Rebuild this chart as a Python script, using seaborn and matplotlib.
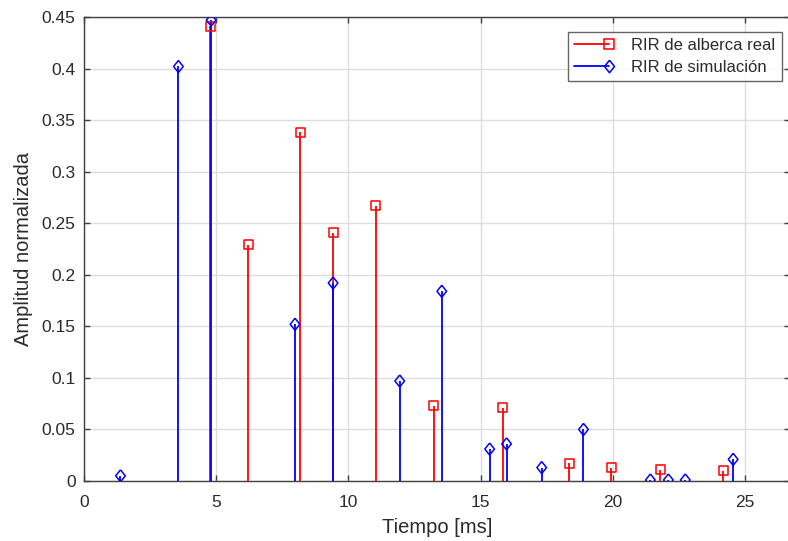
import numpy as np
import pandas as pd
import matplotlib
matplotlib.use("Agg")
import matplotlib.pyplot as plt
from matplotlib.lines import Line2D
from matplotlib.legend_handler import HandlerBase
import seaborn as sns

# Measured pool impulse response (time in ms, normalized amplitude)
t_real = [4.77, 6.21, 8.17, 9.42, 11.04, 13.23, 15.83, 18.36, 19.94, 21.79, 24.17]
a_real = [0.441, 0.229, 0.338, 0.241, 0.267, 0.073, 0.071, 0.017, 0.013, 0.011, 0.010]

# Simulated impulse response
t_sim = [1.38, 3.57, 4.81, 7.98, 9.42, 11.94, 13.53, 15.34, 15.98, 17.31, 18.89,
         21.42, 22.10, 22.74, 24.55]
a_sim = [0.005, 0.402, 0.447, 0.152, 0.192, 0.097, 0.184, 0.031, 0.036, 0.013, 0.050,
         0.001, 0.001, 0.001, 0.021]

x_ticks = [0, 5, 10, 15, 20, 25]
y_ticks = [0, 0.05, 0.1, 0.15, 0.2, 0.25, 0.3, 0.35, 0.4, 0.45]
y_tick_labels = ["0", "0.05", "0.1", "0.15", "0.2", "0.25", "0.3", "0.35", "0.4", "0.45"]
series_labels = ["RIR de alberca real", "RIR de simulación"]

sns.set_theme(style="whitegrid")
plt.rcParams["font.family"] = ["Liberation Sans", "DejaVu Sans"]

real = pd.DataFrame({"t": t_real, "a": a_real})
sim = pd.DataFrame({"t": t_sim, "a": a_sim})

RED = "#ff0000"
BLUE = "#0000ff"
DARK = "#2b2b2b"
AXIS = "#404040"
diamond = [(0, 1.0), (0.8, 0), (0, -1.0), (-0.8, 0), (0, 1.0)]


class StemHandler(HandlerBase):
    """Legend entry drawn as a horizontal stem with its head at the right end."""

    def create_artists(self, legend, orig_handle, xdescent, ydescent, width,
                       height, fontsize, trans):
        y = height / 2 - ydescent
        x0, x1 = -xdescent, width - xdescent
        line = Line2D([x0, x1], [y, y], color=orig_handle.get_color(),
                      linewidth=orig_handle.get_linewidth())
        head = Line2D([x1], [y], linestyle="none",
                      marker=orig_handle.get_marker(),
                      markersize=orig_handle.get_markersize(),
                      markerfacecolor="none",
                      markeredgecolor=orig_handle.get_markeredgecolor(),
                      markeredgewidth=orig_handle.get_markeredgewidth())
        line.set_transform(trans)
        head.set_transform(trans)
        return [line, head]


fig = plt.figure(figsize=(7.88, 5.41), dpi=100)
ax = fig.add_axes([84 / 788, 1 - 481 / 541, (790 - 84) / 788, (481 - 17) / 541])

# stems
ax.vlines(real["t"], 0, real["a"], color=RED, linewidth=1.3, zorder=3)
ax.vlines(sim["t"], 0, sim["a"], color=BLUE, linewidth=1.3, zorder=3)

# stem heads
sns.scatterplot(data=real, x="t", y="a", marker="s", s=42, facecolor="none",
                edgecolor=RED, linewidth=1.1, ax=ax, zorder=4, legend=False)
sns.scatterplot(data=sim, x="t", y="a", marker=diamond, s=75, facecolor="none",
                edgecolor=BLUE, linewidth=1.1, ax=ax, zorder=4, legend=False)

ax.set_xlim(0, 26.7)
ax.set_ylim(0, 0.45)
ax.set_xticks(x_ticks)
ax.set_yticks(y_ticks)
ax.set_yticklabels(y_tick_labels)

ax.set_facecolor("white")
ax.grid(True, color="#dedede", linewidth=1.0)
for side in ["left", "bottom", "top", "right"]:
    ax.spines[side].set_visible(True)
    ax.spines[side].set_color(AXIS)
    ax.spines[side].set_linewidth(1.0)
ax.tick_params(axis="both", direction="in", length=4, width=1, colors=AXIS,
               labelcolor=DARK, labelsize=12.5, top=True, right=True,
               left=True, bottom=True)
ax.tick_params(axis="x", pad=10)
ax.tick_params(axis="y", pad=6)

ax.set_xlabel("Tiempo [ms]", fontsize=14.5, color=DARK, labelpad=6)
ax.set_ylabel("Amplitud normalizada", fontsize=14.5, color=DARK, labelpad=6)

handles = [
    Line2D([], [], color=RED, linewidth=1.3, marker="s", markersize=6.5,
           markeredgecolor=RED, markeredgewidth=1.1),
    Line2D([], [], color=BLUE, linewidth=1.3, marker=diamond, markersize=9,
           markeredgecolor=BLUE, markeredgewidth=1.1),
]
leg = ax.legend(handles, series_labels,
                handler_map={Line2D: StemHandler()},
                loc="upper right", bbox_to_anchor=(0.988, 0.968),
                fontsize=12, frameon=True, fancybox=False, handlelength=2.1,
                handletextpad=1.3, borderpad=0.38, labelspacing=0.4,
                borderaxespad=0.0)
leg.get_frame().set_edgecolor(AXIS)
leg.get_frame().set_linewidth(1.0)
for txt in leg.get_texts():
    txt.set_color(DARK)

fig.savefig("out.png", dpi=100)
